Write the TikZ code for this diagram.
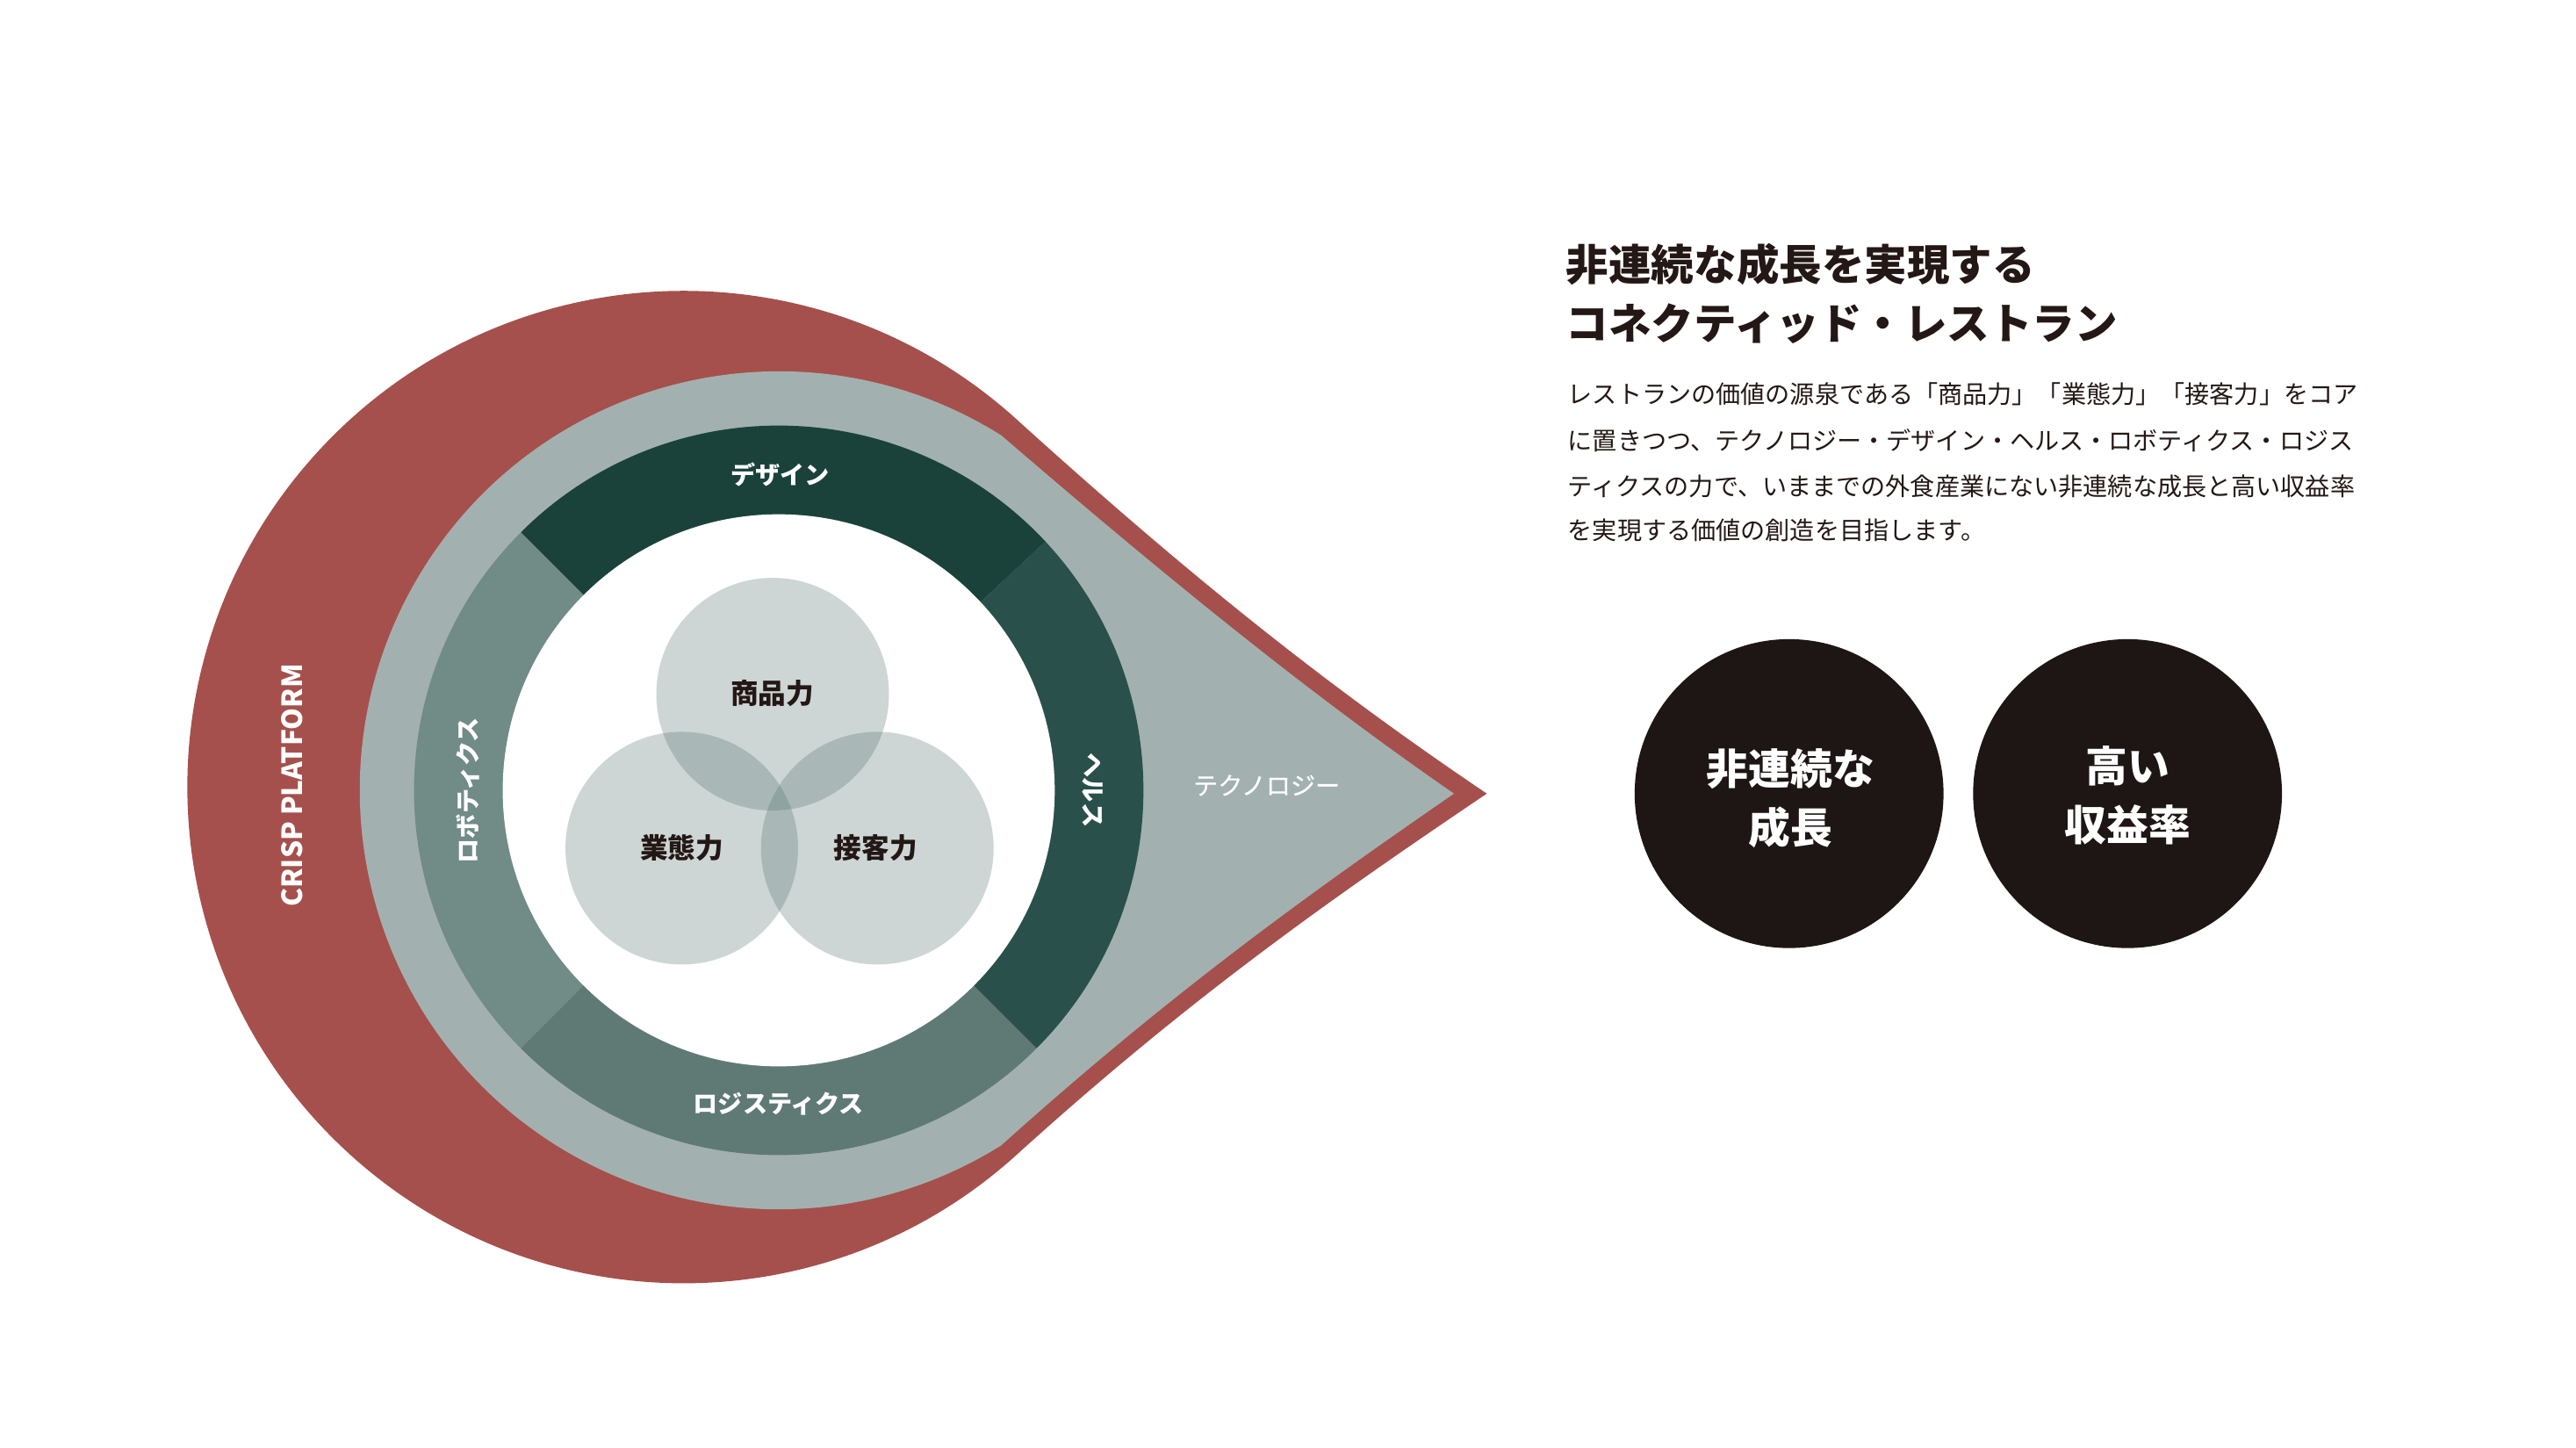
\documentclass[tikz,border=0pt]{standalone}
\usepackage{fontspec}
\setmainfont{Noto Sans CJK JP}
\newfontfamily\jpmed[FakeBold=0.5]{Noto Sans CJK JP}
\XeTeXlinebreaklocale "ja"
\XeTeXlinebreakskip=0pt plus 1pt
\definecolor{redC}{HTML}{A5504C}
\definecolor{greyC}{HTML}{A2B1AF}
\definecolor{designC}{HTML}{1A423B}
\definecolor{healthC}{HTML}{2A504C}
\definecolor{logiC}{HTML}{5F7A74}
\definecolor{roboC}{HTML}{718B87}
\definecolor{vennC}{HTML}{4D6D69}
\definecolor{blackC}{HTML}{1E1614}
\definecolor{inkC}{HTML}{231815}
\tikzset{
  ringlabel/.style={text=white,font=\bfseries\fontsize{8pt}{9pt}\selectfont,inner sep=0pt},
  vennlabel/.style={text=inkC,font=\bfseries\fontsize{9pt}{10pt}\selectfont,inner sep=0pt},
  venncircle/.style={fill=vennC,fill opacity=0.28},
  titletxt/.style={text=inkC,font=\bfseries\fontsize{13.8pt}{16pt}\selectfont,inner sep=0pt,anchor=west},
  bodytxt/.style={text=inkC,font=\fontsize{8pt}{10pt}\selectfont,inner sep=0pt,anchor=west},
  bigdot/.style={fill=blackC},
  dottxt/.style={text=white,font=\bfseries\fontsize{13.6pt}{19.2pt}\selectfont,align=center,inner sep=0pt}
}
\begin{document}
\begin{tikzpicture}[x=0.01871cm,y=0.01871cm]
\useasboundingbox (0,0) rectangle (1568,881);
\fill[white] (0,0) rectangle (1568,881);
% red teardrop
\fill[redC] (905,398) .. controls (805.5,465.1) and (722,532.3) .. (618.1,626.4)
  arc[start angle=48,end angle=312,radius=302]
  .. controls (722,271.7) and (805.5,330.9) .. (905,398) -- cycle;
% grey teardrop
\fill[greyC] (885,398) .. controls (799.9,456.8) and (715.3,524.9) .. (609.5,616)
  arc[start angle=57.9,end angle=302.1,radius=255]
  .. controls (715.3,279.1) and (799.9,339.2) .. (885,398) -- cycle;
% ring segments
\begin{scope}[shift={(474,400)}]
  \fill[designC] (0,0) -- (43:222) arc[start angle=43,end angle=135,radius=222] -- cycle;
  \fill[roboC] (0,0) -- (135:222) arc[start angle=135,end angle=225,radius=222] -- cycle;
  \fill[logiC] (0,0) -- (225:222) arc[start angle=225,end angle=315,radius=222] -- cycle;
  \fill[healthC] (0,0) -- (315:222) arc[start angle=315,end angle=403,radius=222] -- cycle;
  \fill[white] (0,0) circle[radius=168];
\end{scope}
% venn
\fill[venncircle] (470.3,458.5) circle[radius=70.8];
\fill[venncircle] (415,364.8) circle[radius=70.8];
\fill[venncircle] (534,364.8) circle[radius=70.8];
\node[vennlabel] (shohin) at (470,459) {商品力};
\node[vennlabel] (gyotai) at (415,365) {業態力};
\node[vennlabel] (sekkyaku) at (533,365) {接客力};
% ring labels
\node[ringlabel] (design) at (475,592) {デザイン};
\node[ringlabel] (logi) at (474,209) {ロジスティクス};
\node[ringlabel,rotate=90] (robo) at (285,400) {ロボティクス};
\node[ringlabel,rotate=-90] (health) at (665,400) {ヘルス};
\node[text=white,font=\jpmed\fontsize{8pt}{9pt}\selectfont,inner sep=0pt] (tech) at (771,403) {テクノロジー};
\node[text=white,font=\bfseries\fontsize{9pt}{11pt}\selectfont,rotate=90,inner sep=0pt] (crisp) at (178,403) {CRISP PLATFORM};
% right text
\node[titletxt] (t1) at (953,720) {非連続な成長を実現する};
\node[titletxt] (t2) at (953,684) {コネクティッド・レストラン};
\node[bodytxt] (b1) at (954,641) {\makebox[9.20cm][s]{レストランの価値の源泉である「商品力」「業態力」「接客力」をコア}};
\node[bodytxt] (b2) at (954,613) {\makebox[9.20cm][s]{に置きつつ、テクノロジー・デザイン・ヘルス・ロボティクス・ロジス}};
\node[bodytxt] (b3) at (954,585) {\makebox[9.20cm][s]{ティクスの力で、いままでの外食産業にない非連続な成長と高い収益率}};
\node[bodytxt] (b4) at (954,558) {を実現する価値の創造を目指します。};
% dots
\fill[bigdot] (1089,398) circle[radius=94];
\fill[bigdot] (1295,398) circle[radius=94];
\node[dottxt] (d1) at (1090,395) {非連続な\\成長};
\node[dottxt] (d2) at (1295,397) {高い\\収益率};
\end{tikzpicture}
\end{document}
